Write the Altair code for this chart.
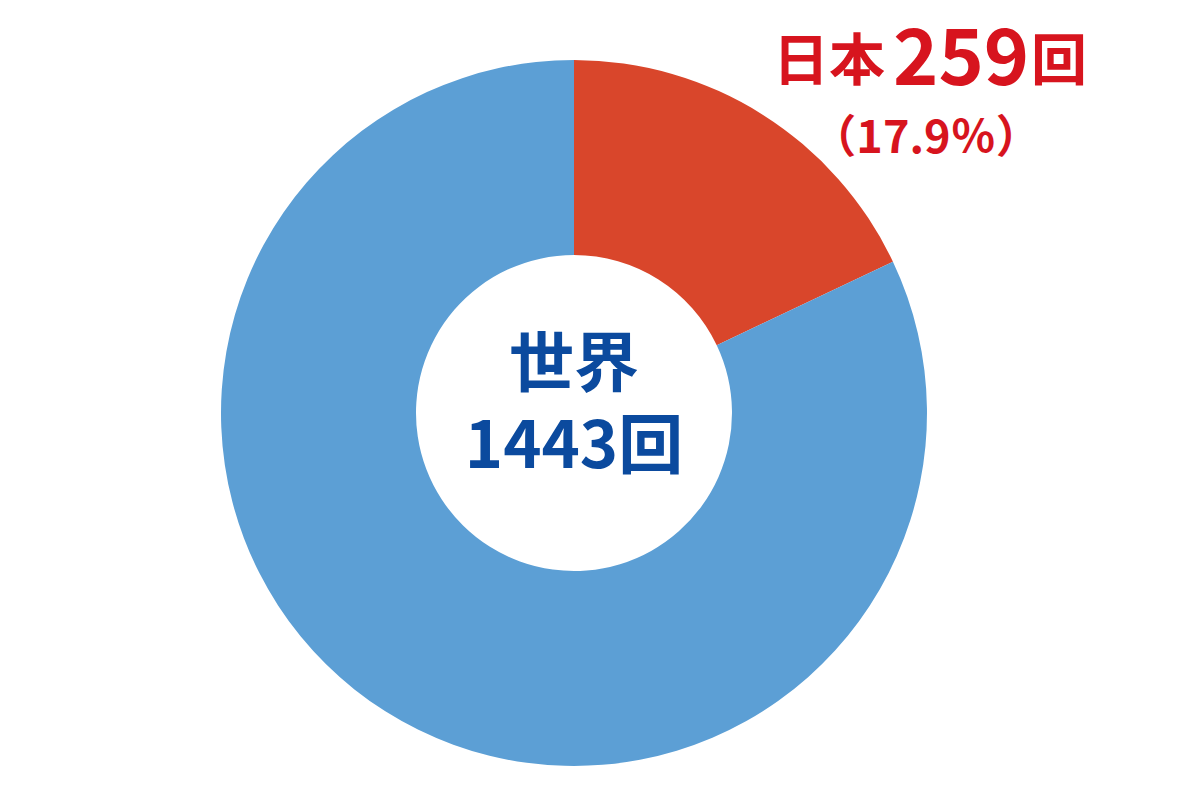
import altair as alt
import pandas as pd

# Share of the world total held by Japan
segments = ["日本", "その他"]
world_total = 1443
japan_count = 259
segment_values = [japan_count, world_total - japan_count]
segment_colors = ["#D9462B", "#5C9FD5"]
segment_order = [0, 1]

japan_share = "（{:.1f}％）".format(japan_count / world_total * 100)

df = pd.DataFrame({"segment": segments, "value": segment_values, "order": segment_order})

W, H = 1200, 796
CX, CY = 574, 413

donut = alt.Chart(df).mark_arc(radius=353, radius2=158, stroke=None).encode(
    theta=alt.Theta("value:Q", stack=True),
    order=alt.Order("order:Q"),
    color=alt.Color("segment:N",
                    scale=alt.Scale(domain=segments, range=segment_colors),
                    legend=None),
    x=alt.value(CX),
    y=alt.value(CY),
)

FONT = "Noto Sans CJK JP"
RED = "#D7141E"
BLUE = "#0B4A9E"


def label(text, x, y, size, color, align="center"):
    return alt.Chart(pd.DataFrame({"t": [text]})).mark_text(
        font=FONT, fontWeight="bold", fontSize=size, color=color,
        align=align, baseline="middle",
    ).encode(text="t:N", x=alt.value(x), y=alt.value(y))


labels = [
    label("日本", 773, 63, 56, RED, "left"),
    label(str(japan_count), 893, 62, 77, RED, "left"),
    label("回", 1031, 63, 56, RED, "left"),
    label(japan_share, 926, 139, 45, RED),
    label("世界", CX, 366, 65, BLUE),
    label(f"{world_total}回", CX, 448, 65, BLUE),
]

chart = alt.layer(donut, *labels).properties(
    width=W, height=H, padding=0, autosize=alt.AutoSizeParams(type="none"),
    background="white",
).configure_view(stroke=None)

chart.save("out.html", embed_options={"renderer": "svg", "actions": False})
